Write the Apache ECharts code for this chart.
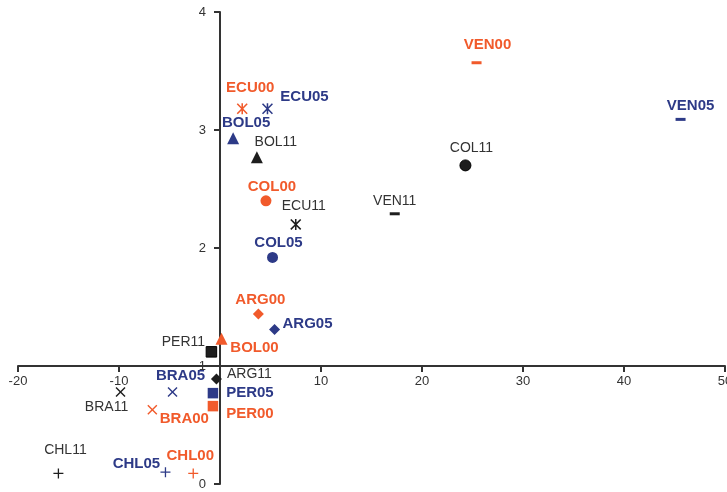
<!DOCTYPE html>
<html>
<head>
<meta charset="utf-8">
<script src="https://cdn.jsdelivr.net/npm/echarts@6/dist/echarts.min.js"></script>
<style>html,body{margin:0;padding:0;background:#fff;}#c{width:727px;height:492px;}</style>
</head>
<body>
<div id="c"></div>
<script>
// ---- data ----
const names = ['ARG00','ARG05','ARG11','BOL00','BOL05','BOL11','BRA00','BRA05','BRA11','CHL00','CHL05','CHL11',
               'COL00','COL05','COL11','ECU00','ECU05','ECU11','PER00','PER05','PER11','VEN00','VEN05','VEN11'];
const xValues = [3.8, 5.4, -0.35, 0.15, 1.3, 3.65, -6.7, -4.7, -9.85, -2.65, -5.4, -16.0,
                 4.55, 5.2, 24.3, 2.2, 4.7, 7.5, -0.7, -0.7, -0.85, 25.4, 45.6, 17.3];
const yValues = [1.44, 1.31, 0.89, 1.23, 2.93, 2.77, 0.63, 0.78, 0.78, 0.09, 0.10, 0.09,
                 2.40, 1.92, 2.70, 3.18, 3.18, 2.20, 0.66, 0.77, 1.12, 3.57, 3.09, 2.29];
const xTicks = [-20, -10, 0, 10, 20, 30, 40, 50];
const yTicks = [0, 1, 2, 3, 4];
const xCross = 0;   // y axis crosses x axis at x = 0
const yCross = 1;   // x axis crosses y axis at y = 1

// ---- styling ----
const yearColor = {'00': '#F15A2B', '05': '#2D3A87', '11': '#1E1E1E'};
const asterisk = 'path://M0,1L1,0L5,4L9,0L10,1L6,5L10,9L9,10L5,6L1,10L0,9L4,5Z M4.3,0L5.7,0L5.7,10L4.3,10Z';
const xMark = 'path://M0,1L1,0L5,4L9,0L10,1L6,5L10,9L9,10L5,6L1,10L0,9L4,5Z';
const plusMark = 'path://M4.35,0L5.65,0L5.65,4.35L10,4.35L10,5.65L5.65,5.65L5.65,10L4.35,10L4.35,5.65L0,5.65L0,4.35L4.35,4.35Z';
const countrySymbol = {
  ARG: ['diamond', 11], BOL: ['triangle', 12], BRA: [xMark, 10], CHL: [plusMark, 10],
  COL: ['circle', 11], ECU: [asterisk, 11], PER: ['rect', 10.5], VEN: ['rect', [10, 3]]
};
const labelOffset = {
  ARG00: [2, -14], ARG05: [33, -6], ARG11: [33, -5], BOL00: [33, 9], BOL05: [13, -15], BOL11: [19, -15],
  BRA00: [32, 9], BRA05: [8, -16], BRA11: [-14, 15], CHL00: [-3, -18], CHL05: [-29, -8], CHL11: [7, -23],
  COL00: [6, -14], COL05: [6, -15], COL11: [6, -17], ECU00: [8, -21], ECU05: [37, -12], ECU11: [8, -18],
  PER00: [37, 8], PER05: [37, 0], PER11: [-28, -10], VEN00: [11, -18], VEN05: [10, -14], VEN11: [0, -13]
};

const FONT = '"Liberation Sans", Arial, sans-serif';

const data = names.map((n, i) => {
  const country = n.slice(0, 3), yr = n.slice(3);
  const sym = countrySymbol[country];
  const bold = yr !== '11';
  const outlined = yr === '11' && (country === 'COL' || country === 'PER');
  return {
    name: n,
    value: [xValues[i], yValues[i]],
    symbol: sym[0],
    symbolSize: sym[1],
    itemStyle: {
      color: yearColor[yr],
      opacity: 1,
      borderColor: outlined ? '#000' : 'transparent',
      borderWidth: outlined ? 1 : 0
    },
    label: {
      show: true,
      formatter: n,
      position: 'inside',
      offset: labelOffset[n],
      align: 'center',
      verticalAlign: 'middle',
      fontFamily: FONT,
      fontSize: bold ? 15 : 14,
      fontWeight: bold ? 'bold' : 'normal',
      color: bold ? yearColor[yr] : '#333'
    }
  };
});

const chart = echarts.init(document.getElementById('c'), null, {renderer: 'canvas'});
chart.setOption({
  animation: false,
  backgroundColor: '#fff',
  grid: {left: 18, right: 2, top: 12, bottom: 8, containLabel: false, outerBoundsMode: 'none'},
  xAxis: {
    type: 'value', position: 'bottom', offset: 0,
    min: xTicks[0], max: xTicks[xTicks.length - 1], interval: 10,
    axisLine: {onZero: false, lineStyle: {color: '#333', width: 2}},
    axisTick: {show: true, length: 6, lineStyle: {color: '#333', width: 2}},
    axisLabel: {
      formatter: v => (v === xCross ? '' : String(v)),
      fontFamily: FONT, fontSize: 13, color: '#333', margin: 9
    },
    splitLine: {show: false}
  },
  yAxis: {
    type: 'value', position: 'left', offset: 0,
    min: yTicks[0], max: yTicks[yTicks.length - 1], interval: 1,
    axisLine: {onZero: false, lineStyle: {color: '#333', width: 2}},
    axisTick: {show: true, length: 6, lineStyle: {color: '#333', width: 2}},
    axisLabel: {
      formatter: v => String(v),
      fontFamily: FONT, fontSize: 13, color: '#333', margin: 14
    },
    splitLine: {show: false}
  },
  series: [{
    type: 'scatter',
    data: data,
    z: 3
  }]
});

// move the axes so they cross at (xCross, yCross), using the chart's own scales
const corner = chart.convertToPixel({gridIndex: 0}, [xTicks[0], yTicks[0]]);
const cross = chart.convertToPixel({gridIndex: 0}, [xCross, yCross]);
chart.setOption({
  xAxis: {offset: -(corner[1] - cross[1])},
  yAxis: {offset: -(cross[0] - corner[0])}
});
</script>
</body>
</html>
